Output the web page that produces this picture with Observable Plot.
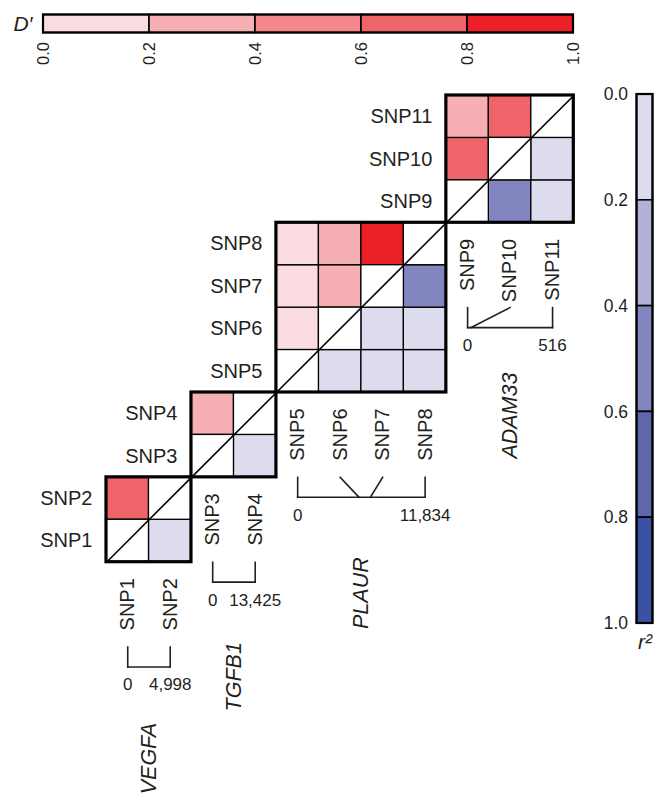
<!DOCTYPE html>
<html>
<head>
<meta charset="utf-8">
<script src="https://cdn.jsdelivr.net/npm/d3@7"></script>
<script src="https://cdn.jsdelivr.net/npm/@observablehq/plot@0.6"></script>
<style>
  html, body { margin: 0; padding: 0; background: #fff; }
  #wrap { position: relative; width: 654px; height: 798px; overflow: hidden; }
  #wrap svg { position: absolute; left: 0; top: 0; }
</style>
</head>
<body>
<div id="wrap"></div>
<script>
// ---------- data ----------
const snps = ["SNP1","SNP2","SNP3","SNP4","SNP5","SNP6","SNP7","SNP8","SNP9","SNP10","SNP11"];
const genes = ["VEGFA","TGFB1","PLAUR","ADAM33"];
const geneFirstSnp = [1, 3, 5, 9];
const geneLastSnp = [2, 4, 8, 11];
// relative genomic position (bp) of each SNP within its gene
const snpPositions = [0, 4998, 0, 13425, 0, 5700, 6750, 11834, 0, 20, 516];
// SNP pairs (a < b) and their LD values
const pairA = [1, 3, 5, 5, 5, 6, 6, 7, 9, 9, 10];
const pairB = [2, 4, 6, 7, 8, 7, 8, 8, 10, 11, 11];
const dPrime = [0.7, 0.3, 0.1, 0.1, 0.1, 0.3, 0.3, 0.9, 0.7, 0.3, 0.7];
const rSquared = [0.1, 0.1, 0.1, 0.1, 0.1, 0.1, 0.1, 0.5, 0.5, 0.1, 0.1];
// colour bins
const binStarts = [0, 0.2, 0.4, 0.6, 0.8];
const legendTicks = [0, 0.2, 0.4, 0.6, 0.8, 1.0];
const redColors = ["#fadbdf", "#f6b0b4", "#f3888c", "#ef6468", "#ec2127"];
const blueColors = ["#dcdcee", "#b2b1d8", "#8185c0", "#5f66ac", "#3a52a3"];

// ---------- helpers ----------
const FONT = "'Liberation Sans', Arial, Helvetica, sans-serif";
const INK = "#231f20";
const thresholds = [0.2, 0.4, 0.6, 0.8];
const redScale = d3.scaleThreshold(thresholds, redColors);
const blueScale = d3.scaleThreshold(thresholds, blueColors);

const blocks = genes.map((g, i) => ({gene: g, first: geneFirstSnp[i], last: geneLastSnp[i]}));
const blockOf = k => blocks.find(b => k >= b.first && k <= b.last);
const maxPos = b => snpPositions[b.last - 1];

const cells = [];
pairA.forEach((a, i) => {
  const b = pairB[i];
  cells.push({col: a, row: b, fill: redScale(dPrime[i])});
  cells.push({col: b, row: a, fill: blueScale(rSquared[i])});
});
snps.forEach((s, i) => cells.push({col: i + 1, row: i + 1, fill: "white"}));

const snpRows = snps.map((s, i) => ({name: s, k: i + 1, block: blockOf(i + 1)}));

// bracket geometry (in cell units below each block)
const BR_TOP = 2.0, BR_BOT = 2.47;
const bracketLinks = snpRows.map(d => {
  const b = d.block;
  const x0 = b.first - 0.5, x1 = b.last - 0.5;
  return {
    x1: d.k - 0.5, y1: b.first - 1 - BR_TOP,
    x2: x0 + snpPositions[d.k - 1] / maxPos(b) * (x1 - x0), y2: b.first - 1 - BR_BOT
  };
});
const bracketBase = blocks.map(b => ({x1: b.first - 0.5, x2: b.last - 0.5, y: b.first - 1 - BR_BOT}));
const posLabels = blocks.flatMap(b => [
  {x: b.first - 0.5, y: b.first - 1 - BR_BOT, text: "0"},
  {x: b.last - 0.5, y: b.first - 1 - BR_BOT, text: d3.format(",")(maxPos(b))}
]);
const geneOffsets = [56, 60, 60, 45];
const geneLabels = blocks.map((b, i) => ({x: (b.first + b.last - 1) / 2, y: b.first - 1 - BR_BOT, text: b.gene, dy: geneOffsets[i]}));

const baseStyle = {fontFamily: FONT, background: "transparent", overflow: "visible", color: INK};

// ---------- main LD matrix ----------
const main = Plot.plot({
  width: 654, height: 798, margin: 0,
  style: baseStyle,
  x: {domain: [0, 11], range: [106, 573.3], axis: null},
  y: {domain: [0, 11], range: [561.7, 95], axis: null},
  color: {type: "identity"},
  marks: [
    Plot.rect(cells, {x1: d => d.col - 1, x2: d => d.col, y1: d => d.row - 1, y2: d => d.row,
      fill: d => d.fill, stroke: "black", strokeWidth: 1.3}),
    Plot.link(blocks, {x1: d => d.first - 1, y1: d => d.first - 1, x2: d => d.last, y2: d => d.last,
      stroke: "black", strokeWidth: 1.6}),
    Plot.rect(blocks, {x1: d => d.first - 1, x2: d => d.last, y1: d => d.first - 1, y2: d => d.last,
      fill: "none", stroke: "black", strokeWidth: 3.2}),
    // row labels
    Plot.text(snpRows, {x: d => d.block.first - 1, y: d => d.k - 0.5, text: "name", dx: -14,
      textAnchor: "end", fontSize: 20, fill: INK}),
    // column labels
    Plot.text(snpRows, {x: d => d.k - 0.5, y: d => d.block.first - 1, text: "name", dy: 16,
      rotate: -90, textAnchor: "end", fontSize: 20, fill: INK}),
    // position brackets
    Plot.link(bracketLinks, {x1: "x1", y1: "y1", x2: "x2", y2: "y2", stroke: INK, strokeWidth: 1.6, strokeLinecap: "square"}),
    Plot.link(bracketBase, {x1: "x1", x2: "x2", y1: "y", y2: "y", stroke: INK, strokeWidth: 1.6, strokeLinecap: "square"}),
    Plot.text(posLabels, {x: "x", y: "y", text: "text", dy: 18, fontSize: 17, fill: INK}),
    // gene names
    ...geneLabels.map(g => Plot.text([g], {x: "x", y: "y", text: "text", dy: g.dy, rotate: -90,
      textAnchor: "end", fontStyle: "italic", fontSize: 21.5, fill: INK}))
  ]
});

// ---------- D' legend ----------
const dLegend = Plot.plot({
  width: 654, height: 798, margin: 0,
  style: baseStyle,
  x: {domain: [0, 1], range: [43, 573], axis: null},
  y: {domain: [0, 1], range: [32.5, 14.5], axis: null},
  color: {type: "threshold", domain: thresholds, range: redColors},
  marks: [
    Plot.rect(binStarts, {x1: d => d, x2: d => d + 0.2, y1: 0, y2: 1, fill: d => d + 0.1, stroke: "black", strokeWidth: 1.6}),
    Plot.rect([0], {x1: 0, x2: 1, y1: 0, y2: 1, fill: "none", stroke: "black", strokeWidth: 2.2}),
    Plot.text(legendTicks, {x: d => d, y: 0, text: d => d.toFixed(1), dy: 9, rotate: -90,
      textAnchor: "end", fontSize: 16.5, fill: INK}),
    Plot.text(["D\u2032"], {x: 0, y: 0.5, text: d => d, dx: -11, textAnchor: "end",
      fontStyle: "italic", fontSize: 21, fill: INK})
  ]
});

// ---------- r2 legend ----------
const rLegend = Plot.plot({
  width: 654, height: 798, margin: 0,
  style: baseStyle,
  x: {domain: [0, 1], range: [636.5, 652.5], axis: null},
  y: {domain: [0, 1], range: [94, 623], axis: null},
  color: {type: "threshold", domain: thresholds, range: blueColors},
  marks: [
    Plot.rect(binStarts, {x1: 0, x2: 1, y1: d => d, y2: d => d + 0.2, fill: d => d + 0.1, stroke: "black", strokeWidth: 1.6}),
    Plot.rect([0], {x1: 0, x2: 1, y1: 0, y2: 1, fill: "none", stroke: "black", strokeWidth: 2.2}),
    Plot.text(legendTicks, {x: 0, y: d => d, text: d => d.toFixed(1), dx: -9,
      textAnchor: "end", fontSize: 17.5, fill: INK}),
    Plot.text(["r\u00b2"], {x: 0.5, y: 1, text: d => d, dy: 19, fontStyle: "italic", fontSize: 21, fill: INK})
  ]
});

const wrap = document.getElementById("wrap");
wrap.append(main, dLegend, rLegend);
</script>
</body>
</html>
